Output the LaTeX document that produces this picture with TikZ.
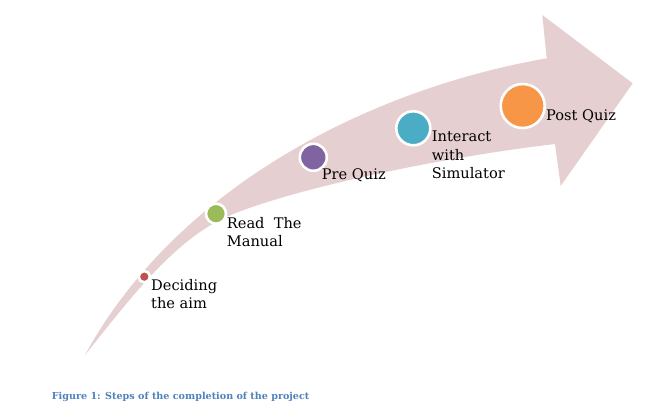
\documentclass[tikz,border=0pt]{standalone}
\usepackage{fontspec}
\setmainfont{DejaVu Serif}
\definecolor{arrowpink}{HTML}{E6CFD0}
\definecolor{aimred}{HTML}{C0504D}
\definecolor{manualgreen}{HTML}{9BBB59}
\definecolor{prequizpurple}{HTML}{8064A2}
\definecolor{simteal}{HTML}{4BACC6}
\definecolor{postorange}{HTML}{F79646}
\definecolor{captionblue}{HTML}{4F81BD}
\begin{document}
\begin{tikzpicture}[x=1pt, y=-1pt,
  stepdot/.style = {circle, draw=white, line width=2.6pt, inner sep=0pt},
  steplabel/.style = {align=left, anchor=base west, inner sep=0pt},
  font=\fontsize{14.6}{18.3}\selectfont]
  \useasboundingbox (0, 0) rectangle (653, 412);

  % Arrow.
  \fill [arrowpink] (85, 355)
        .. controls (175, 190) and (365, 90) .. (546.7, 58.3)
        -- (542.3, 15) -- (632.7, 83.3) -- (560.7, 186) -- (555, 144)
        .. controls (420, 160) and (270, 195) .. (220, 220)
        .. controls (170, 245) and (125, 305) .. (85, 355) -- cycle;

  % Steps.
  \node at (144.3, 276.7) [stepdot, fill=aimred, minimum size=11.3, name=AimDot] {};
  \node at (216, 213.7) [stepdot, fill=manualgreen, minimum size=20, name=ManualDot] {};
  \node at (313.3, 157.3) [stepdot, fill=prequizpurple, minimum size=27, name=PreQuizDot] {};
  \node at (413.3, 128.3) [stepdot, fill=simteal, minimum size=34, name=SimulatorDot] {};
  \node at (522.7, 106) [stepdot, fill=postorange, minimum size=44, name=PostQuizDot] {};

  % Labels (anchored at the baseline of the last line).
  \node at (151, 308.5) [steplabel, name=AimLabel] {Deciding\\the aim};
  \node at (226.7, 246.5) [steplabel, name=ManualLabel] {Read\ \ The\\Manual};
  \node at (321.7, 179) [steplabel, name=PreQuizLabel] {Pre Quiz};
  \node at (431.7, 178.3) [steplabel, name=SimulatorLabel] {Interact\\with\\Simulator};
  \node at (546, 120) [steplabel, name=PostQuizLabel] {Post Quiz};

  % Caption.
  \node at (51.7, 399.3) [anchor=base west, inner sep=0pt, text=captionblue,
        font=\fontsize{9.6}{11}\selectfont\bfseries, name=Caption]
        {Figure 1: Steps of the completion of the project};
\end{tikzpicture}
\end{document}
